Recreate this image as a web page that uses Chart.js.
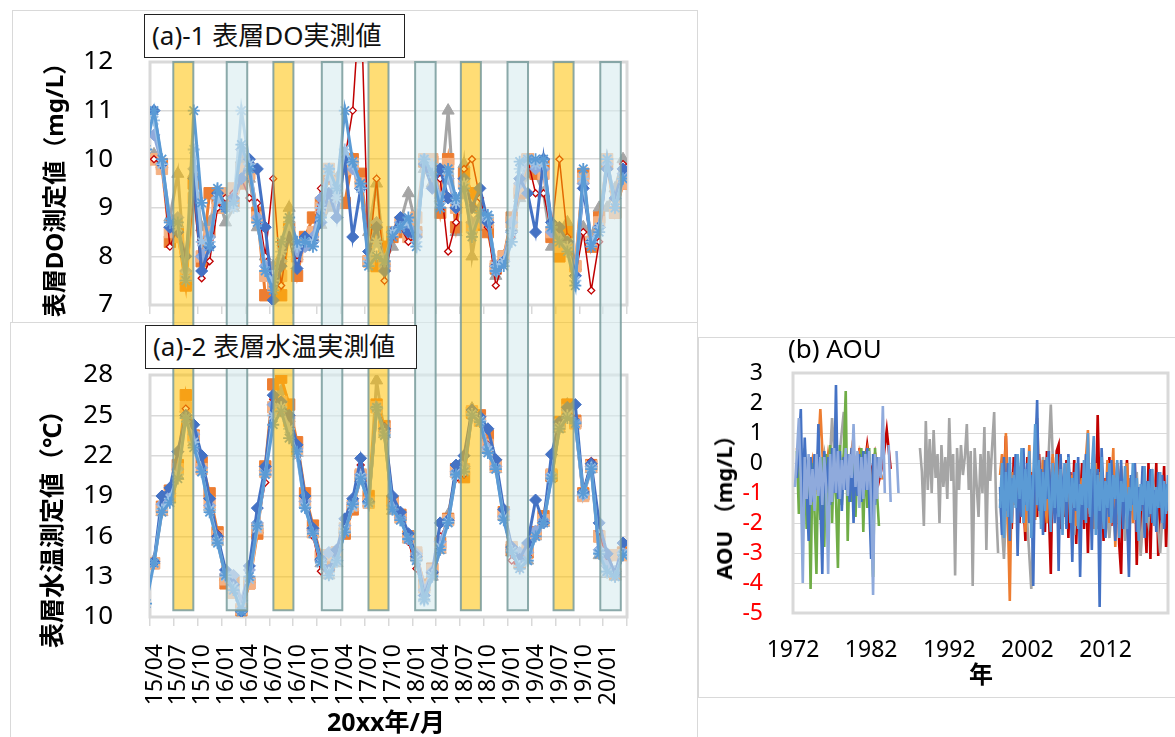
<!DOCTYPE html>
<html><head><meta charset="utf-8">
<script src="https://cdn.jsdelivr.net/npm/chart.js@4.4.1/dist/chart.umd.min.js"></script>
<style>
html,body{margin:0;padding:0;background:#fff;}
body{width:1175px;height:737px;position:relative;overflow:hidden;font-family:'Noto Sans','Noto Sans CJK JP',sans-serif;color:#000;}
.panel{position:absolute;border:1px solid #D9D9D9;box-sizing:border-box;background:#fff;}
canvas{position:absolute;}
.tbox{position:absolute;background:#fff;border:1.5px solid #222;box-sizing:border-box;font-size:26px;line-height:40px;padding-left:7px;white-space:nowrap;z-index:5;color:#111;}
.rot{position:absolute;transform:translate(-50%,-50%) rotate(-90deg);white-space:nowrap;font-weight:bold;z-index:5;}
.lbl{position:absolute;transform:translate(-50%,-50%);white-space:nowrap;z-index:5;}
</style></head>
<body>
<div class="panel" style="left:12px;top:10px;width:686px;height:313px;"></div>
<div class="panel" style="left:10px;top:322px;width:688px;height:420px;"></div>
<div class="panel" style="left:698px;top:337px;width:485px;height:361px;"></div>
<canvas id="cDO" width="685" height="312" style="left:12px;top:10px;"></canvas>
<canvas id="cT" width="687" height="415" style="left:10px;top:322px;"></canvas>
<canvas id="cA" width="477" height="360" style="left:698px;top:337px;"></canvas>
<div class="tbox" style="left:144px;top:14px;width:261px;height:44px;">(a)-1 表層DO実測値</div>
<div class="tbox" style="left:145px;top:325px;width:272px;height:44px;">(a)-2 表層水温実測値</div>
<div class="rot" style="left:52px;top:184px;font-size:24px;">表層DO測定値（mg/L）</div>
<div class="rot" style="left:50px;top:523px;font-size:25px;">表層水温測定値（℃）</div>
<div class="lbl" style="left:386px;top:720px;font-size:25px;font-weight:bold;">20xx年/月</div>
<div style="position:absolute;left:788px;top:333px;font-size:26px;line-height:30px;z-index:5;white-space:nowrap;">(b) AOU</div>
<div class="rot" style="left:722px;top:502px;font-size:22px;">AOU （mg/L）</div>
<div class="lbl" style="left:981px;top:672px;font-size:24px;font-weight:bold;">年</div>
<script>
// ---------- (a) monthly data, first value = 2015/03 ----------
const xTickLabels = ['15/04','15/07','15/10','16/01','16/04','16/07','16/10','17/01','17/04','17/07','17/10','18/01','18/04','18/07','18/10','19/01','19/04','19/07','19/10','20/01'];

const doSt1 = [null,10.0,9.9,8.2,8.6,7.6,9.3,7.55,7.9,9.0,9.2,9.3,9.6,9.2,9.1,8.0,9.6,7.4,8.5,7.9,8.2,8.4,9.4,9.6,9.4,10.0,11.0,13.5,7.9,9.6,7.5,8.4,8.6,8.3,8.4,9.9,9.8,9.6,8.1,8.7,9.8,10.0,9.2,8.6,7.4,7.9,8.4,9.5,10.0,9.3,9.3,8.5,10.0,8.4,7.6,8.5,7.3,8.3,9.9,9.0,9.9];
const doSt2 = [null,10.0,9.9,8.3,8.5,7.4,9.5,7.9,9.3,9.2,9.1,9.1,9.5,9.8,8.9,7.2,7.5,7.2,8.6,7.6,8.4,8.8,9.1,9.6,9.2,9.1,10.0,9.7,7.9,7.8,8.2,8.4,8.5,8.65,8.5,9.95,9.95,8.9,10.0,8.6,9.7,9.3,8.65,8.5,7.75,8.0,8.8,9.3,10.0,9.7,9.9,8.4,8.0,8.5,7.8,9.7,8.2,8.8,9.9,8.9,9.5];
const doSt3 = [null,10.1,9.9,8.8,9.7,7.5,9.7,8.6,8.7,9.3,8.7,9.0,10.0,9.6,8.6,8.0,7.8,8.0,9.0,8.0,8.2,8.4,8.65,9.0,9.6,10.0,10.0,9.6,8.5,9.5,7.9,8.2,8.7,9.3,8.6,9.8,9.5,9.2,11.0,8.5,9.9,8.0,9.0,8.7,7.6,8.0,8.6,9.2,9.7,9.7,9.3,8.2,8.3,8.7,7.8,8.6,8.4,9.0,9.0,9.4,10.0];
const doSt4 = [null,11.0,9.9,8.6,8.5,8.0,9.6,7.7,8.2,9.3,9.0,9.2,9.6,10.0,9.8,8.6,7.1,7.8,8.4,7.75,8.4,8.3,8.7,9.3,8.8,10.0,8.4,9.4,8.1,8.6,7.7,8.5,8.8,8.5,8.4,9.9,9.4,9.8,9.2,9.0,9.6,9.0,9.4,8.7,7.8,7.9,8.5,9.6,9.3,8.5,10.0,8.7,8.6,8.3,7.6,9.4,8.3,8.6,9.8,9.2,9.8];
const doSt5 = [10.2,11.0,10.0,8.7,8.7,7.5,11.0,9.1,8.2,9.4,9.0,9.1,10.3,9.8,8.7,7.7,7.3,8.3,8.8,8.3,8.3,8.2,8.8,9.8,9.4,11.0,9.95,9.5,7.8,8.0,7.9,8.4,8.6,8.8,8.2,10.0,9.7,9.0,9.8,9.2,9.4,8.4,8.9,8.85,7.7,7.8,8.3,9.95,10.0,10.0,10.0,8.6,8.3,8.1,7.4,9.8,8.2,8.5,10.0,9.0,9.6];
const doSt6 = [null,10.0,9.8,8.5,8.4,7.6,9.2,8.0,8.5,9.0,9.3,9.4,9.8,9.7,8.8,7.6,7.4,7.6,8.5,8.0,8.3,8.5,9.0,9.8,9.5,9.8,9.9,9.5,7.9,8.5,7.8,8.5,8.7,8.4,8.8,10.0,10.0,9.3,9.9,9.0,9.5,8.6,8.7,8.7,7.8,8.0,8.7,9.4,10.0,9.9,9.7,8.5,8.2,8.2,7.8,9.6,8.3,8.7,10.0,8.9,9.5];
const doSt7 = [null,10.5,9.9,8.6,8.8,7.7,9.8,8.0,8.4,9.2,9.0,9.2,10.2,9.9,8.8,7.8,7.5,7.9,8.6,8.1,8.2,8.4,9.2,9.8,8.8,10.0,9.8,9.4,8.1,8.7,7.8,8.5,8.7,8.6,8.5,10.0,9.8,9.2,9.6,9.0,9.3,8.7,8.8,8.7,7.7,7.9,8.7,9.5,10.0,9.8,9.8,8.5,8.4,8.3,7.6,9.5,8.3,8.6,9.9,9.2,9.7];
const doSt8 = [null,10.8,9.9,8.7,8.6,7.6,10.2,8.3,8.3,9.2,9.0,9.0,11.0,9.9,8.7,7.7,7.5,8.1,8.7,8.2,8.3,8.3,9.0,9.7,9.2,10.2,9.9,9.4,7.9,8.3,7.9,8.5,8.6,8.7,8.3,10.0,9.9,9.1,9.7,9.1,9.5,8.5,8.9,8.8,7.8,7.9,8.5,9.8,10.0,9.9,9.9,8.6,8.3,8.2,7.5,9.6,8.3,8.6,10.0,9.0,9.6];

const wtSt1 = [null,14.0,18.0,19.5,21.0,25.5,23.5,21.0,18.4,16.2,13.2,12.0,10.6,13.0,16.8,20.0,26.2,25.2,24.8,22.0,18.6,16.0,13.4,13.3,14.4,16.8,18.5,21.3,18.4,25.5,24.2,18.5,17.5,15.6,13.6,12.0,13.2,16.0,17.0,20.3,20.6,25.0,24.6,22.8,21.0,17.4,14.2,13.6,14.6,16.0,17.2,20.5,24.6,25.5,24.7,19.3,21.6,16.4,14.0,13.0,14.8];
const wtSt2 = [null,14.0,18.2,19.4,21.3,26.5,23.5,21.5,19.2,16.3,12.5,12.6,10.5,12.5,16.2,21.2,27.3,27.8,25.8,23.0,19.2,16.8,14.5,13.8,14.8,16.2,18.0,20.5,19.0,25.8,24.2,18.6,17.6,16.0,14.6,12.4,13.6,15.5,17.3,21.0,20.4,25.2,25.0,23.5,21.3,17.8,15.0,14.0,14.8,16.3,17.5,20.5,24.5,25.8,24.6,19.2,21.3,16.0,14.6,13.2,14.8];
const wtSt3 = [null,14.2,17.8,18.8,20.5,25.5,23.0,21.0,18.2,15.6,13.0,12.0,11.0,12.8,16.5,20.8,26.0,26.8,24.8,22.2,18.4,16.2,14.0,13.1,14.0,16.5,18.2,20.3,18.5,27.6,23.6,17.9,17.5,15.8,14.5,11.4,13.0,15.0,17.6,20.7,21.3,25.5,24.8,22.5,21.0,17.5,14.8,13.9,14.2,16.0,17.0,20.4,24.0,25.8,24.4,19.0,21.0,14.6,13.2,13.0,14.6];
const wtSt4 = [null,14.1,19.0,19.6,22.3,25.0,24.3,22.0,18.8,16.0,13.5,12.4,10.4,13.8,18.1,21.2,26.5,26.0,25.0,22.8,19.0,16.6,14.3,13.5,15.0,17.3,18.8,21.8,18.6,25.5,24.0,19.0,17.8,16.2,14.5,11.6,13.3,17.0,17.2,21.3,22.0,25.4,24.9,24.0,21.7,18.0,15.2,14.3,15.5,18.7,17.0,22.1,24.5,25.6,25.8,19.3,21.4,17.0,14.7,13.2,15.5];
const wtSt5 = [11.0,14.0,17.8,18.5,20.3,24.8,22.6,20.8,17.8,15.5,13.1,12.0,10.4,13.0,16.8,20.6,24.3,25.3,23.3,22.3,18.1,16.2,14.1,13.1,14.2,16.3,18.4,20.3,18.5,25.6,23.5,18.0,17.2,15.8,14.2,11.3,13.0,15.0,17.0,20.6,20.8,25.0,24.5,22.2,21.0,17.2,14.8,13.6,14.2,16.0,17.0,20.3,24.0,24.8,24.4,19.2,21.0,14.7,13.4,13.0,14.6];
const wtSt6 = [null,14.0,18.0,19.0,21.0,25.6,23.4,21.0,18.5,16.0,12.8,11.8,10.6,12.5,16.6,20.8,25.6,26.0,24.6,22.4,18.6,16.3,14.6,14.6,14.8,16.6,18.3,20.6,18.5,25.6,24.0,18.4,17.4,15.9,14.8,12.2,13.5,15.2,17.2,20.8,21.0,25.3,24.6,22.8,21.2,17.6,15.2,14.6,15.0,16.2,17.2,20.6,24.3,25.4,24.4,19.0,21.2,16.0,14.6,14.6,14.6];
const wtSt7 = [null,14.1,18.4,19.2,21.0,25.0,23.6,21.1,18.3,15.8,13.2,13.1,11.2,13.5,17.0,20.9,25.8,26.0,24.8,22.5,18.6,16.4,14.2,14.8,14.2,16.8,18.5,20.6,18.5,25.6,23.8,18.3,17.4,15.8,14.7,12.0,13.4,15.6,17.2,20.8,21.2,25.1,24.6,22.6,21.2,17.5,15.0,14.8,14.8,16.4,17.2,20.6,24.2,25.4,24.5,19.1,21.2,15.0,13.8,13.4,14.8];
const wtSt8 = [null,14.0,18.0,18.8,20.6,24.8,23.0,20.8,18.0,15.6,13.0,12.2,10.6,12.8,16.6,20.6,25.0,25.6,24.0,22.0,18.2,16.2,14.0,13.3,14.1,16.4,18.2,20.4,18.4,25.5,23.6,18.0,17.2,15.8,14.3,11.2,13.1,15.2,17.1,20.5,20.9,25.1,24.6,22.4,21.0,17.4,14.9,13.8,14.2,16.0,17.0,20.4,24.1,25.0,24.4,19.1,21.1,14.8,13.3,13.0,14.7];

// highlighted periods (months after 2015/04/01)
const summerBandStart = [2.93, 15.52, 27.48, 39.10, 50.76];
const summerBandLength = 2.52;
const winterBandStart = [9.65, 21.61, 33.35, 44.97, 56.64];
const winterBandLength = 2.58;

// ---------- (b) AOU ----------
const aouYearTicks = [1972, 1982, 1992, 2002, 2012];
const aouLavender = [-0.8,0.3,1.5,-0.6,-4.0,0.2,-1.2,0.3,-1.4,-0.2,-1.6,0.3,-1.1,0.2,-1.4,0.2,-0.8,-3.7,0.3,-1.3,0.5,-1.0,0.4,-1.2,0.1,-0.9,0.5,-1.1,0.3,-0.5,1.3,-0.8,0.4,-1.5,0.2,-1.2,0.3,-0.9,0.4,-1.3,-4.4,0.3,-1.2,0.2,-0.5,1.9,-1.0,null,0.6,-1.3,null,null,0.4,-1.0];
const aouGreenEarly = [0.4,-1.7,0.2,-1.0,0.5,-2.2,0.1,-4.2,0.0,-1.6,-3.7,0.4,-1.9,0.2,-2.8,0.3,-1.5,0.6,-2.0,0.3,-1.2,-3.5,0.6,-1.4,0.4,2.4,-2.6,0.2,-1.3,0.6,-1.8,0.1,-1.0,0.5,-2.3,0.4,-1.5,0.5,-1.6,-3.8,0.5,-1.0,-2.1];
const aouBlueEarly = [-0.5,0.6,1.8,-1.5,0.85,-0.8,-2.6,0.2,-1.3,0.3,-0.9,1.3,-1.2,-3.7,0.4,-1.0,0.2,-1.4,0.5,-1.0,2.6,-1.2,0.4,-1.6,0.2,-0.9,0.3,-1.3,0.5,-2.0,0.2,-1.1,0.3,-1.3,0.4,-0.9,0.5,-1.2,-3.2,0.3,-1.4,0.2];
const aouOrangeEarly = [0.5,-0.6,0.2,-0.8,0.1,-0.7,1.8,-0.9,0.3,-0.5,0.6,-0.8,0.2,-0.6,0.4,-1.0,0.3,-0.4,0.4,-0.8,0.3,-0.2,-0.55];
const aouGreyEarly = [-0.5,0.3,-1.0,1.5,-0.6,0.4,1.7,-0.8,0.5,-1.2,0.2];
const aouRedEarly = [0.5,-0.5,0.6,-0.4,0.3,-0.6,0.0,1.1,-0.2];
const aouGreyMid = [0.5,-0.3,-2.1,1.4,-0.9,0.8,-1.0,1.1,-0.5,0.3,-2.0,0.6,-0.8,0.2,-1.2,1.5,-0.6,0.3,-3.75,0.5,-0.9,0.6,-0.4,0.2,1.3,-0.9,0.4,-4.1,0.5,-0.7,-1.8,0.3,-1.0,1.2,-2.9,0.4,-0.6,0.6,1.7,-1.5,-3.0];
const aouSteelLate = [-1.5,0.0,-2.5,-0.3,-1.8,0.2,-2.0,-0.4,-1.5,0.3,-1.2,0.5,-2.0,-0.2,-1.6,0.4,-2.5,-0.5,1.3,-1.4,0.1,-2.2,-0.3,-1.6,0.2,-1.0,-2.3,0.0,-1.5,0.3,-1.8,-0.2,-2.4,0.0,-1.3,0.2,-2.0,-0.5,-1.5,0.0,-2.2,-0.7,-1.4,0.1,-2.0,1.0,-1.8,-0.2,0.9,-2.4,-0.4,-1.6,0.2,-2.2,-0.6,-1.5,0.0,-2.0,-0.4,-1.2,0.1,-2.5,-0.6,-1.3,-0.1,-2.2,-0.8,-1.6,0.0,-1.9,-0.5,-2.6,-0.7,-1.4,-0.1,-2.0,-0.6,-1.7,-0.2,-2.1,-0.8,-1.5,-0.3,-2.0,-0.6,-1.7,-0.4];
const aouBlueLate = [-0.8,-2.4,0.2,-1.6,0.0,-2.6,-0.5,-1.3,0.3,-3.1,-0.2,-1.8,0.5,-1.4,0.0,-2.0,-0.4,-4.1,0.2,2.1,-1.6,-0.2,-2.4,0.1,-1.2,0.4,-1.9,-0.3,-2.0,0.2,-3.6,0.3,-1.5,-0.2,-2.2,0.3,-1.0,-3.3,-0.3,-1.6,0.2,-3.8,-0.8,-1.9,0.3,-1.5,-0.2,-2.9,0.1,-1.3,-0.2,-4.8,0.5,-1.0,-2.5,-0.3,-1.8,0.1,-1.4,-2.6,-0.3,-1.5,0.1,-2.2,-0.7,-1.7,-3.8,-0.4,-1.4,0.0,-2.3,-0.8,-1.6,-0.1,-2.5,-0.6,-1.8,-0.2,-2.0,-0.9,-2.3,-0.3,-1.5,-0.4,-2.2,-0.7,-1.6];
const aouRedLate = [-0.5,0.9,-1.6,-0.2,-2.2,0.2,-1.4,-0.3,-2.0,0.1,-1.2,-2.6,0.2,-1.0,-0.3,-2.2,-0.4,-1.8,0.3,-1.1,-0.2,-2.3,0.4,-1.6,-3.7,0.2,-1.3,0.4,0.6,-2.2,-0.5,-1.8,0.1,-2.5,-0.3,-1.5,0.1,-2.7,-0.6,-1.3,0.0,-2.2,-0.4,-3.0,-0.3,-1.6,0.3,-1.9,1.6,-1.2,-0.1,-2.6,-0.5,-1.4,0.2,-2.1,-0.2,-1.3,0.0,-2.7,-3.7,-0.6,-1.5,0.1,-2.4,-0.5,-1.2,0.0,-3.4,-1.0,-2.9,-0.3,-1.6,-3.0,0.0,-3.2,-0.6,-1.8,0.0,-3.1,-0.9,-2.0,-0.1,-2.8,-0.8];
const aouOrangeLate = [-0.4,0.3,-1.2,1.0,-1.8,-4.6,-0.3,-1.4,0.2,-1.9,-0.4,-1.1,0.2,-2.3,-0.8,0.6,-1.6,-0.5,-1.9,1.5,-0.6,-1.5,0.1,-1.2,-2.0,-0.2,-1.4,0.3,-1.7,-0.5,-1.1,0.2,-2.0,-0.6,-1.3,0.0,-1.8,-0.4,-1.0,-2.1,0.0,-1.4,-0.5,-1.8,0.2,1.1,-1.5,-0.4,-2.2,0.0,-1.2,-0.3,-1.9,-0.6,-1.4,0.1,-2.0,-0.8,0.5,-2.8,-0.4,-1.6,-0.1,-1.5,-0.6,0.0,-1.3,-0.5,-2.0,-0.3,-1.1];
const aouGreyLate = [-1.2,-3.2,-0.2,-1.8,0.1,-1.3,-0.4,-2.0,-4.2,-0.6,-1.5,0.2,-1.1,1.95,-1.6,-0.4,-1.9,0.0,-1.4,-2.4,-0.3,-1.6,0.0,-1.7,-0.5,-2.2,-0.2,-1.3,-2.5,-0.5,-1.4,-0.2,-2.6,-0.8,-1.5,-0.3,-3.1,-1.0,-2.0,-0.5,-1.4,-3.0,-0.9,-1.6];

// ---------- setup ----------
Chart.defaults.font.family = "'Noto Sans','Noto Sans CJK JP',sans-serif";
Chart.defaults.color = '#000';

const styles = {
  s1:{color:'#C00000', style:'rectRot', r:3.5, w:1.5, fill:'#FFFFFF', pbw:1.3},
  s2:{color:'#ED7D31', style:'rect', r:8, w:3},
  s3:{color:'#A5A5A5', style:'triangle', r:7, w:3},
  s4:{color:'#4472C4', style:'rectRot', r:6, w:3},
  s5:{color:'#5B9BD5', style:'star', r:6, w:3, pbw:1.8},
  s6:{color:'#F4B183', style:'rect', r:8, w:3},
  s7:{color:'#8FAADC', style:'rectRot', r:6, w:3},
  s8:{color:'#9DC3E6', style:'star', r:6, w:3, pbw:1.8}
};
function monthDs(values, st) {
  return {
    data: values.map((v, i) => ({x: i - 0.5, y: v})),
    borderColor: st.color, backgroundColor: st.fill || st.color,
    pointBackgroundColor: st.fill || st.color, pointBorderColor: st.color,
    pointStyle: st.style, pointRadius: st.r, pointBorderWidth: st.pbw || 1,
    borderWidth: st.w, spanGaps: true, tension: 0
  };
}
const xTickValues = xTickLabels.map((_, k) => 3 * k).concat([60]);

const framePlugin = {
  id: 'frame',
  beforeDatasetsDraw(chart) {
    const {ctx, chartArea: a} = chart;
    ctx.save(); ctx.strokeStyle = '#D9D9D9'; ctx.lineWidth = 3;
    ctx.strokeRect(a.left, a.top, a.right - a.left, a.bottom - a.top);
    ctx.restore();
  }
};
const bandPlugin = {
  id: 'bands',
  afterDatasetsDraw(chart, args, opts) {
    if (!opts || !opts.mode) return;
    const {ctx, chartArea, scales: {x, y}} = chart;
    const top = opts.mode === 'upper' ? chartArea.top : 0;
    const bottom = opts.mode === 'upper' ? chart.height : y.getPixelForValue(opts.bottomValue);
    const draw = (starts, len, fill) => {
      starts.forEach(s => {
        const x0 = x.getPixelForValue(s), x1 = x.getPixelForValue(s + len);
        ctx.fillStyle = fill;
        ctx.fillRect(x0, top, x1 - x0, bottom - top);
        ctx.beginPath();
        if (opts.mode === 'upper') {
          ctx.moveTo(x0, bottom); ctx.lineTo(x0, top); ctx.lineTo(x1, top); ctx.lineTo(x1, bottom);
        } else {
          ctx.moveTo(x0, top); ctx.lineTo(x0, bottom); ctx.lineTo(x1, bottom); ctx.lineTo(x1, top);
        }
        ctx.stroke();
      });
    };
    ctx.save();
    ctx.strokeStyle = 'rgba(120,155,155,0.85)'; ctx.lineWidth = 2;
    draw(summerBandStart, summerBandLength, 'rgba(255,192,0,0.54)');
    draw(winterBandStart, winterBandLength, 'rgba(215,235,238,0.6)');
    ctx.restore();
  }
};

function fixWidth(w) {
  return s => { s.width = w; s.paddingTop = 0; s.paddingBottom = 0; };
}
function fixHeight(h) {
  return s => { s.height = h; s.paddingLeft = 0; s.paddingRight = 0; };
}
function monthXAxis(height, showLabels) {
  return {
    type: 'linear', min: 0, max: 60,
    afterBuildTicks: s => { s.ticks = xTickValues.map(v => ({value: v})); },
    afterFit: fixHeight(height),
    grid: {drawOnChartArea: false, drawTicks: true, tickLength: 9, color: '#D9D9D9', lineWidth: 1.5},
    border: {display: false},
    ticks: showLabels ? {autoSkip: false, minRotation: 90, maxRotation: 90, padding: 18, labelOffset: 5,
      font: {size: 23}, color: '#000', callback: (v, i) => xTickLabels[i] ?? ''} :
      {autoSkip: false, maxRotation: 0, callback: () => ''}
  };
}
const order = ['s5','s8','s4','s7','s1','s6','s2','s3'];
const doData = {s1: doSt1, s2: doSt2, s3: doSt3, s4: doSt4, s5: doSt5, s6: doSt6, s7: doSt7, s8: doSt8};
const wtData = {s1: wtSt1, s2: wtSt2, s3: wtSt3, s4: wtSt4, s5: wtSt5, s6: wtSt6, s7: wtSt7, s8: wtSt8};

new Chart(document.getElementById('cDO'), {
  type: 'line',
  data: {datasets: order.map(k => monthDs(doData[k], styles[k]))},
  options: {
    responsive: false, animation: false, devicePixelRatio: 1,
    layout: {padding: {left: 0, top: 52, right: 70, bottom: 0}},
    plugins: {legend: {display: false}, tooltip: {enabled: false}, bands: {mode: 'upper'}},
    scales: {
      x: monthXAxis(17, false),
      y: {min: 7, max: 12, ticks: {stepSize: 1, padding: 37, font: {size: 26}, color: '#000', autoSkip: false},
        grid: {color: '#D9D9D9', lineWidth: 1.5, drawTicks: false}, border: {display: false},
        afterFit: fixWidth(138)}
    }
  },
  plugins: [framePlugin, bandPlugin]
});

new Chart(document.getElementById('cT'), {
  type: 'line',
  data: {datasets: order.map(k => monthDs(wtData[k], styles[k]))},
  options: {
    responsive: false, animation: false, devicePixelRatio: 1,
    layout: {padding: {left: 0, top: 53, right: 70, bottom: 0}},
    plugins: {legend: {display: false}, tooltip: {enabled: false}, bands: {mode: 'lower', bottomValue: 10.5}},
    scales: {
      x: monthXAxis(120, true),
      y: {min: 10, max: 28, ticks: {stepSize: 3, padding: 37, font: {size: 26}, color: '#000', autoSkip: false},
        grid: {color: '#D9D9D9', lineWidth: 1.5, drawTicks: false}, border: {display: false},
        afterFit: fixWidth(140)}
    }
  },
  plugins: [framePlugin, bandPlugin]
});

function aouDs(values, start, step, color) {
  return {
    data: values.map((v, i) => ({x: start + i * step, y: v})),
    borderColor: color, backgroundColor: color, borderWidth: 2.6,
    pointRadius: 0, spanGaps: false, tension: 0
  };
}
new Chart(document.getElementById('cA'), {
  type: 'line',
  data: {datasets: [
    aouDs(aouLavender, 1972.25, 0.25, '#8FAADC'),
    aouDs(aouSteelLate, 1998.5, 0.25, '#5B9BD5'),
    aouDs(aouBlueEarly, 1972.5, 0.25, '#4472C4'),
    aouDs(aouBlueLate, 1998.5, 0.25, '#4472C4'),
    aouDs(aouOrangeLate, 1998.5, 0.25, '#ED7D31'),
    aouDs(aouGreyLate, 1998.5, 0.5, '#A5A5A5'),
    aouDs(aouRedLate, 1999.0, 0.25, '#C00000'),
    aouDs(aouGreenEarly, 1972.5, 0.25, '#70AD47'),
    aouDs(aouOrangeEarly, 1972.5, 0.5, '#ED7D31'),
    aouDs(aouGreyEarly, 1975.5, 0.5, '#A5A5A5'),
    aouDs(aouRedEarly, 1980.5, 0.5, '#C00000'),
    aouDs(aouGreyMid, 1988.25, 0.25, '#A5A5A5')
  ]},
  options: {
    responsive: false, animation: false, devicePixelRatio: 1,
    layout: {padding: {left: 0, top: 36, right: 7, bottom: 0}},
    plugins: {legend: {display: false}, tooltip: {enabled: false}},
    scales: {
      x: {type: 'linear', min: 1972, max: 2020,
        afterBuildTicks: s => { s.ticks = aouYearTicks.map(v => ({value: v})); },
        afterFit: fixHeight(84),
        grid: {display: false}, border: {display: false},
        ticks: {autoSkip: false, maxRotation: 0, padding: 16, font: {size: 23}, color: '#000', callback: v => String(v)}},
      y: {min: -5, max: 3,
        ticks: {stepSize: 1, autoSkip: false, padding: 30, font: {size: 23}, color: c => (c.tick && c.tick.value < 0) ? '#FF0000' : '#000'},
        grid: {color: '#D9D9D9', lineWidth: 1, drawTicks: false}, border: {display: false},
        afterFit: fixWidth(95)}
    }
  },
  plugins: [framePlugin]
});
</script>
</body></html>
